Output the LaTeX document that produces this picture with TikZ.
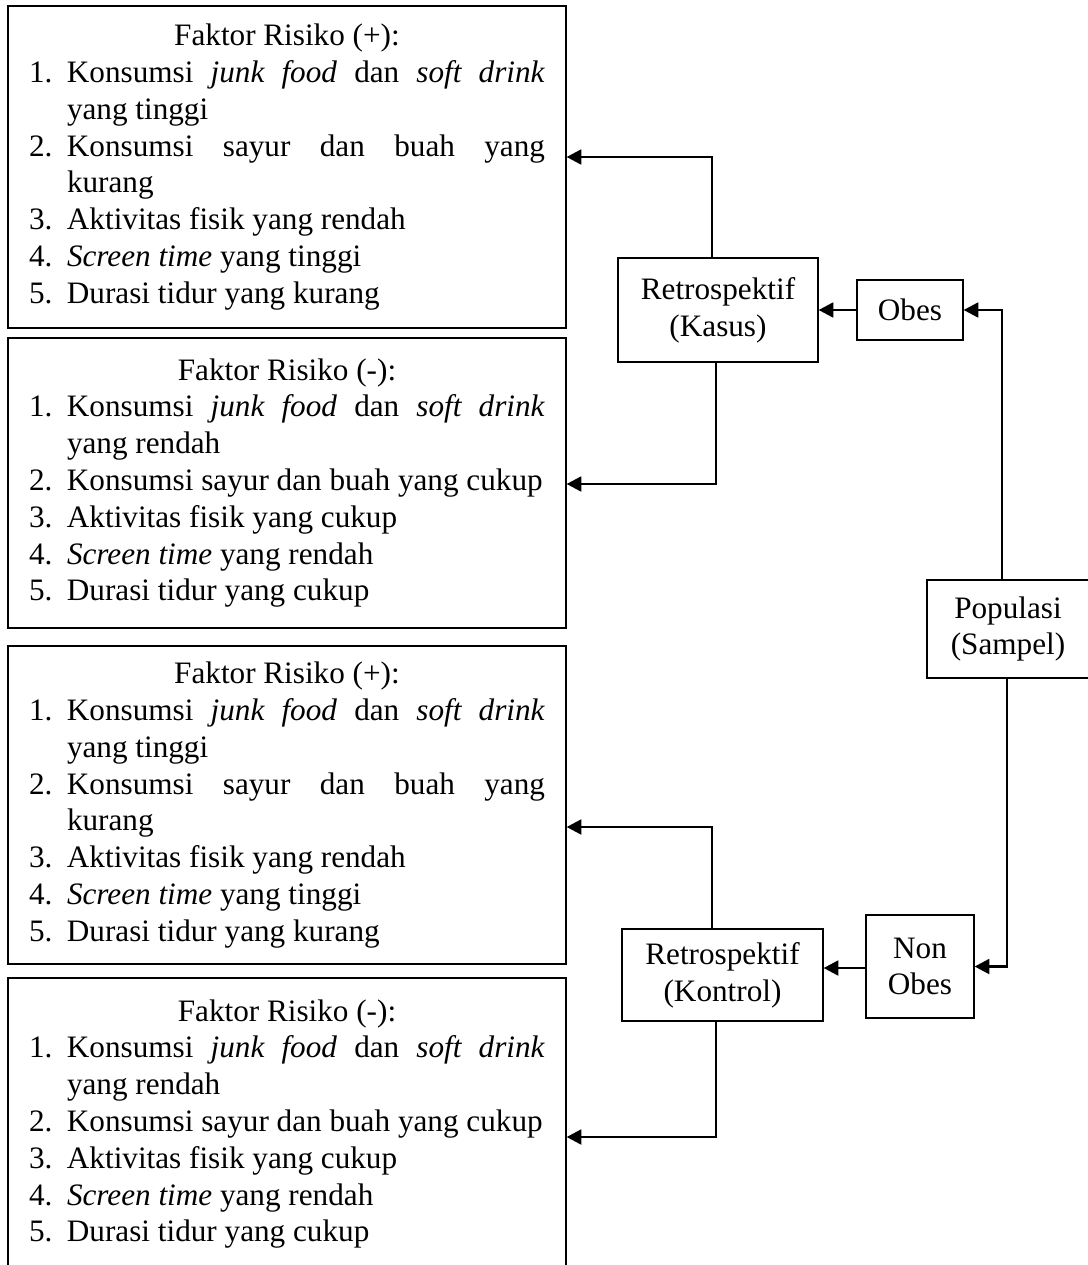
\documentclass[tikz,border=0pt]{standalone}
\usepackage{fontspec}
\setmainfont{Liberation Serif}
\usetikzlibrary{arrows.meta}
\newcommand{\fitem}[2]{\par\hangindent=28.5pt\hangafter=1\noindent\makebox[28.5pt][l]{#1}#2}
\newcommand{\ftitle}[1]{{\centering #1\par}}
\tikzset{
  fbox/.style={draw, line width=0.9pt, text width=387pt, align=justify, inner xsep=15.75pt, inner ysep=0pt,
    font=\fontsize{23.4pt}{27.6pt}\selectfont},
  sbox/.style={draw, line width=0.9pt, align=center, inner sep=0pt,
    font=\fontsize{23.4pt}{27.6pt}\selectfont},
  arr/.style={line width=2.1pt, -{Triangle[length=11pt,width=11pt]}}
}
\begin{document}
\begin{tikzpicture}[x=0.75pt,y=-0.75pt]
\clip (0,0) rectangle (1088,1265);
\fill[white] (0,0) rectangle (1088,1265);

\node[fbox, minimum height=241.5pt] (b1) at (287,167) {%
\ftitle{Faktor Risiko (+):}
\fitem{1.}{Konsumsi \textit{junk food} dan \textit{soft drink}\linebreak yang tinggi}
\fitem{2.}{Konsumsi sayur dan buah yang\linebreak kurang}
\fitem{3.}{Aktivitas fisik yang rendah}
\fitem{4.}{\textit{Screen time} yang tinggi}
\fitem{5.}{Durasi tidur yang kurang}};

\node[fbox, minimum height=217.5pt] (b2) at (287,483) {%
\ftitle{Faktor Risiko (-):}
\fitem{1.}{Konsumsi \textit{junk food} dan \textit{soft drink}\linebreak yang rendah}
\fitem{2.}{Konsumsi sayur dan buah yang cukup}
\fitem{3.}{Aktivitas fisik yang cukup}
\fitem{4.}{\textit{Screen time} yang rendah}
\fitem{5.}{Durasi tidur yang cukup}};

\node[fbox, minimum height=238.5pt] (b3) at (287,805) {%
\ftitle{Faktor Risiko (+):}
\fitem{1.}{Konsumsi \textit{junk food} dan \textit{soft drink}\linebreak yang tinggi}
\fitem{2.}{Konsumsi sayur dan buah yang\linebreak kurang}
\fitem{3.}{Aktivitas fisik yang rendah}
\fitem{4.}{\textit{Screen time} yang tinggi}
\fitem{5.}{Durasi tidur yang kurang}};

\node[fbox, minimum height=219pt] (b4) at (287,1124) {%
\ftitle{Faktor Risiko (-):}
\fitem{1.}{Konsumsi \textit{junk food} dan \textit{soft drink}\linebreak yang rendah}
\fitem{2.}{Konsumsi sayur dan buah yang cukup}
\fitem{3.}{Aktivitas fisik yang cukup}
\fitem{4.}{\textit{Screen time} yang rendah}
\fitem{5.}{Durasi tidur yang cukup}};

\node[sbox, minimum width=150pt, minimum height=78pt] (kasus) at (718,310) {Retrospektif\\(Kasus)};
\node[sbox, minimum width=79.5pt, minimum height=45pt] (obes) at (910,310) {Obes};
\node[sbox, minimum width=121.5pt, minimum height=73.5pt] (pop) at (1008,629) {Populasi\\(Sampel)};
\node[sbox, minimum width=81pt, minimum height=77.25pt] (nonobes) at (920,966.5) {Non\\Obes};
\node[sbox, minimum width=150.75pt, minimum height=69pt] (kontrol) at (722.5,975) {Retrospektif\\(Kontrol)};

\draw[arr] (pop.north -| 1002,0) |- (obes.east);
\draw[arr] (pop.south -| 1007,0) |- (nonobes.east);
\draw[arr] (obes.west) -- (kasus.east);
\draw[arr] (nonobes.west |- 0,968) -- (kontrol.east |- 0,968);
\draw[arr] (kasus.north -| 712,0) |- (b1.east |- 0,157);
\draw[arr] (kasus.south -| 716,0) |- (b2.east |- 0,484);
\draw[arr] (kontrol.north -| 712,0) |- (b3.east |- 0,827);
\draw[arr] (kontrol.south -| 716,0) |- (b4.east |- 0,1137);
\end{tikzpicture}
\end{document}
